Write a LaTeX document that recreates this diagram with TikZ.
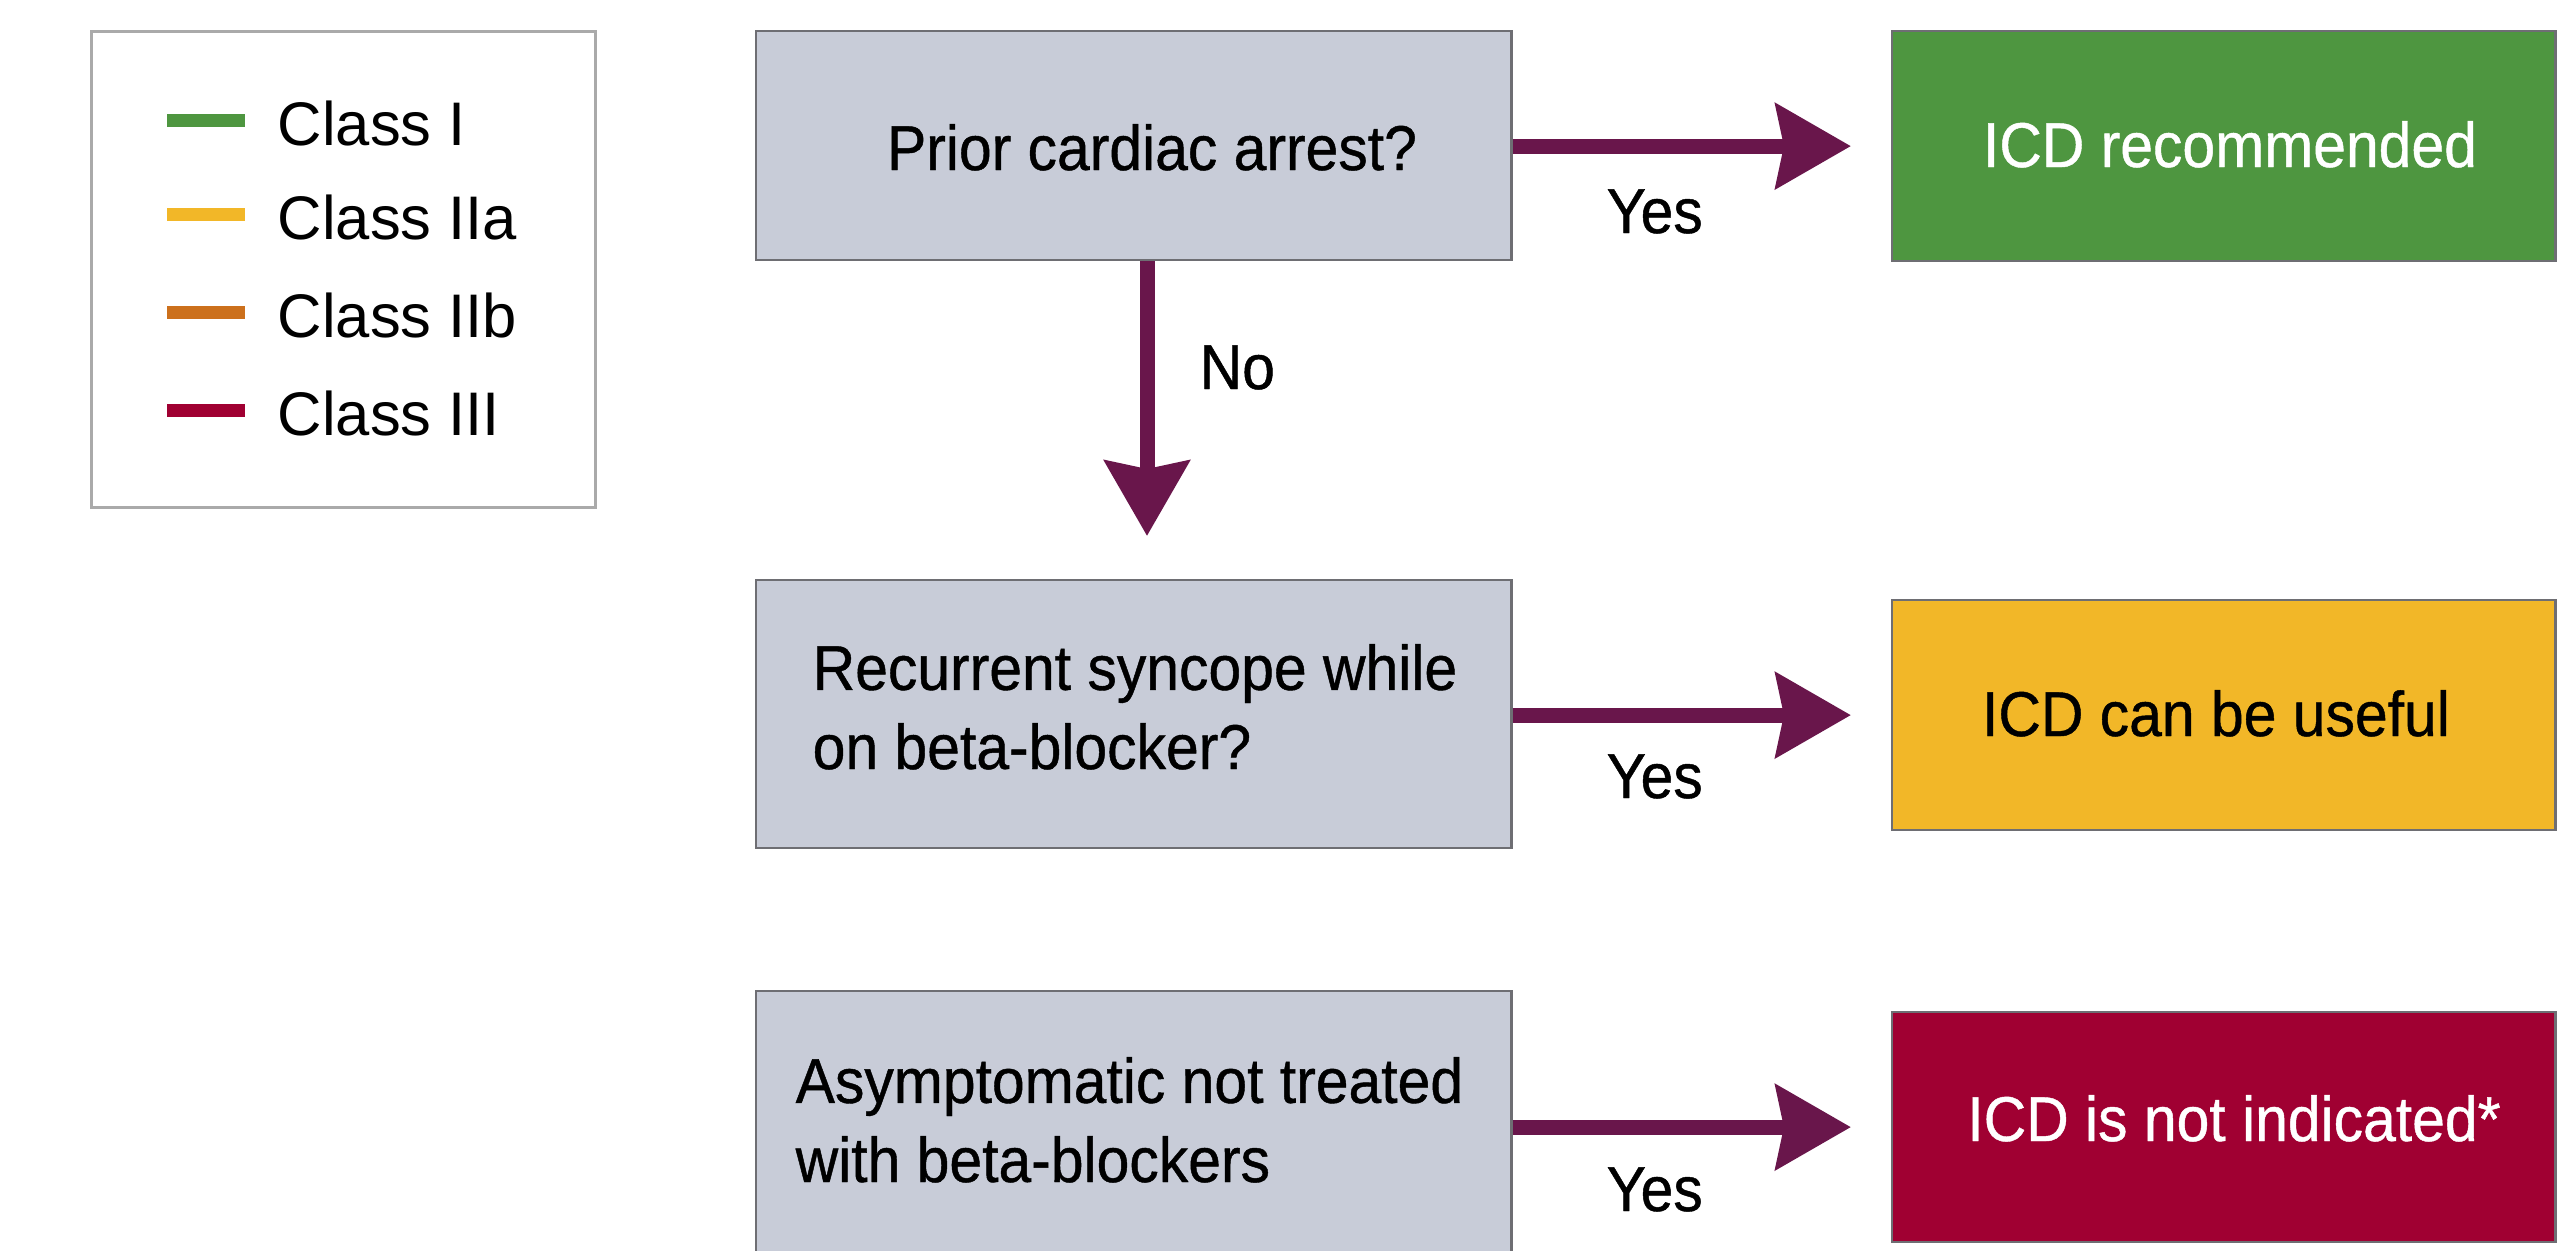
\documentclass[tikz,border=0pt]{standalone}
\usepackage{fontspec}
\setmainfont{Liberation Sans}
\newfontfamily\bxfont[FakeStretch=0.93, FakeBold=0.7]{Liberation Sans}
\usetikzlibrary{arrows.meta}
\definecolor{qgray}{RGB}{200,204,216}
\definecolor{boxline}{RGB}{110,110,115}
\definecolor{legline}{RGB}{170,170,170}
\definecolor{cgreen}{RGB}{78,150,64}
\definecolor{cyellow}{RGB}{242,183,40}
\definecolor{corange}{RGB}{204,112,28}
\definecolor{cred}{RGB}{160,0,50}
\definecolor{arrowc}{RGB}{105,22,75}
\begin{document}
\begin{tikzpicture}[x=0.01cm,y=-0.01cm,
  qbox/.style={draw=boxline, line width=0.6pt, fill=qgray, minimum width=7.55cm, anchor=north west, inner sep=0pt},
  rbox/.style={draw=boxline, line width=0.6pt, minimum width=6.63cm, minimum height=2.30cm, anchor=north west, inner sep=0pt},
  arr/.style={line width=0.15cm, color=arrowc, -{Stealth[length=0.75cm, width=0.84cm, inset=0.08cm]}},
  btxt/.style={font=\bxfont\fontsize{18}{22.5}\selectfont, inner sep=0pt},
  lgtxt/.style={font=\fontsize{17.5}{21}\selectfont, inner sep=0pt, anchor=base west},
  swatch/.style={line width=0.13cm}
]
\fill[white] (0,0) rectangle (2574,1251);
\useasboundingbox (0,0) rectangle (2574,1251);

% legend
\node[draw=legline, line width=0.9pt, minimum width=5.04cm, minimum height=4.76cm, anchor=north west, inner sep=0pt] (legend) at (90,30) {};
\draw[swatch, cgreen] (167,120) -- (245,120);
\draw[swatch, cyellow] (167,214) -- (245,214);
\draw[swatch, corange] (167,312) -- (245,312);
\draw[swatch, cred] (167,410) -- (245,410);
\node[lgtxt] (l1) at (277,145) {Class I};
\node[lgtxt] (l2) at (277,239) {Class IIa};
\node[lgtxt] (l3) at (277,337) {Class IIb};
\node[lgtxt] (l4) at (277,435) {Class III};

% question boxes
\node[qbox, minimum height=2.29cm] (q1) at (755,30) {};
\node[qbox, minimum height=2.68cm] (q2) at (755,579) {};
\node[qbox, minimum height=2.66cm] (q3) at (755,990) {};
\node[btxt, anchor=base] (t1) at (1152,170) {Prior cardiac arrest?};
\node[btxt, anchor=base west, align=left] (t2) at (812,769) {Recurrent syncope while\\on beta-blocker?};
\node[btxt, anchor=base west, align=left] (t3) at (795,1182) {Asymptomatic not treated\\with beta-blockers};

% result boxes
\node[rbox, fill=cgreen] (r1) at (1891,30) {};
\node[rbox, fill=cyellow] (r2) at (1891,599) {};
\node[rbox, fill=cred] (r3) at (1891,1011) {};
\node[btxt, anchor=base, text=white] (s1) at (2230,167) {ICD recommended};
\node[btxt, anchor=base, text=black] (s2) at (2216,736) {ICD can be useful};
\node[btxt, anchor=base, text=white] (s3) at (2234,1141) {ICD is not indicated*};

% connectors
\draw[arr, shorten >=0.4cm] (q1.east |- r1.west) -- (r1.west);
\draw[arr, shorten >=0.4cm] (q2.east |- r2.west) -- (r2.west);
\draw[arr, shorten >=0.4cm] (q3.east |- r3.west) -- (r3.west);
\coordinate (d1) at (1147,536);
\draw[arr] (q1.south -| d1) -- (d1);

% labels
\node[btxt, anchor=base west] (y1) at (1606,233) {Yes};
\node[btxt, anchor=base west] (y2) at (1606,798) {Yes};
\node[btxt, anchor=base west] (y3) at (1606,1211) {Yes};
\node[btxt, anchor=base west] (no) at (1199,389) {No};
\end{tikzpicture}
\end{document}
